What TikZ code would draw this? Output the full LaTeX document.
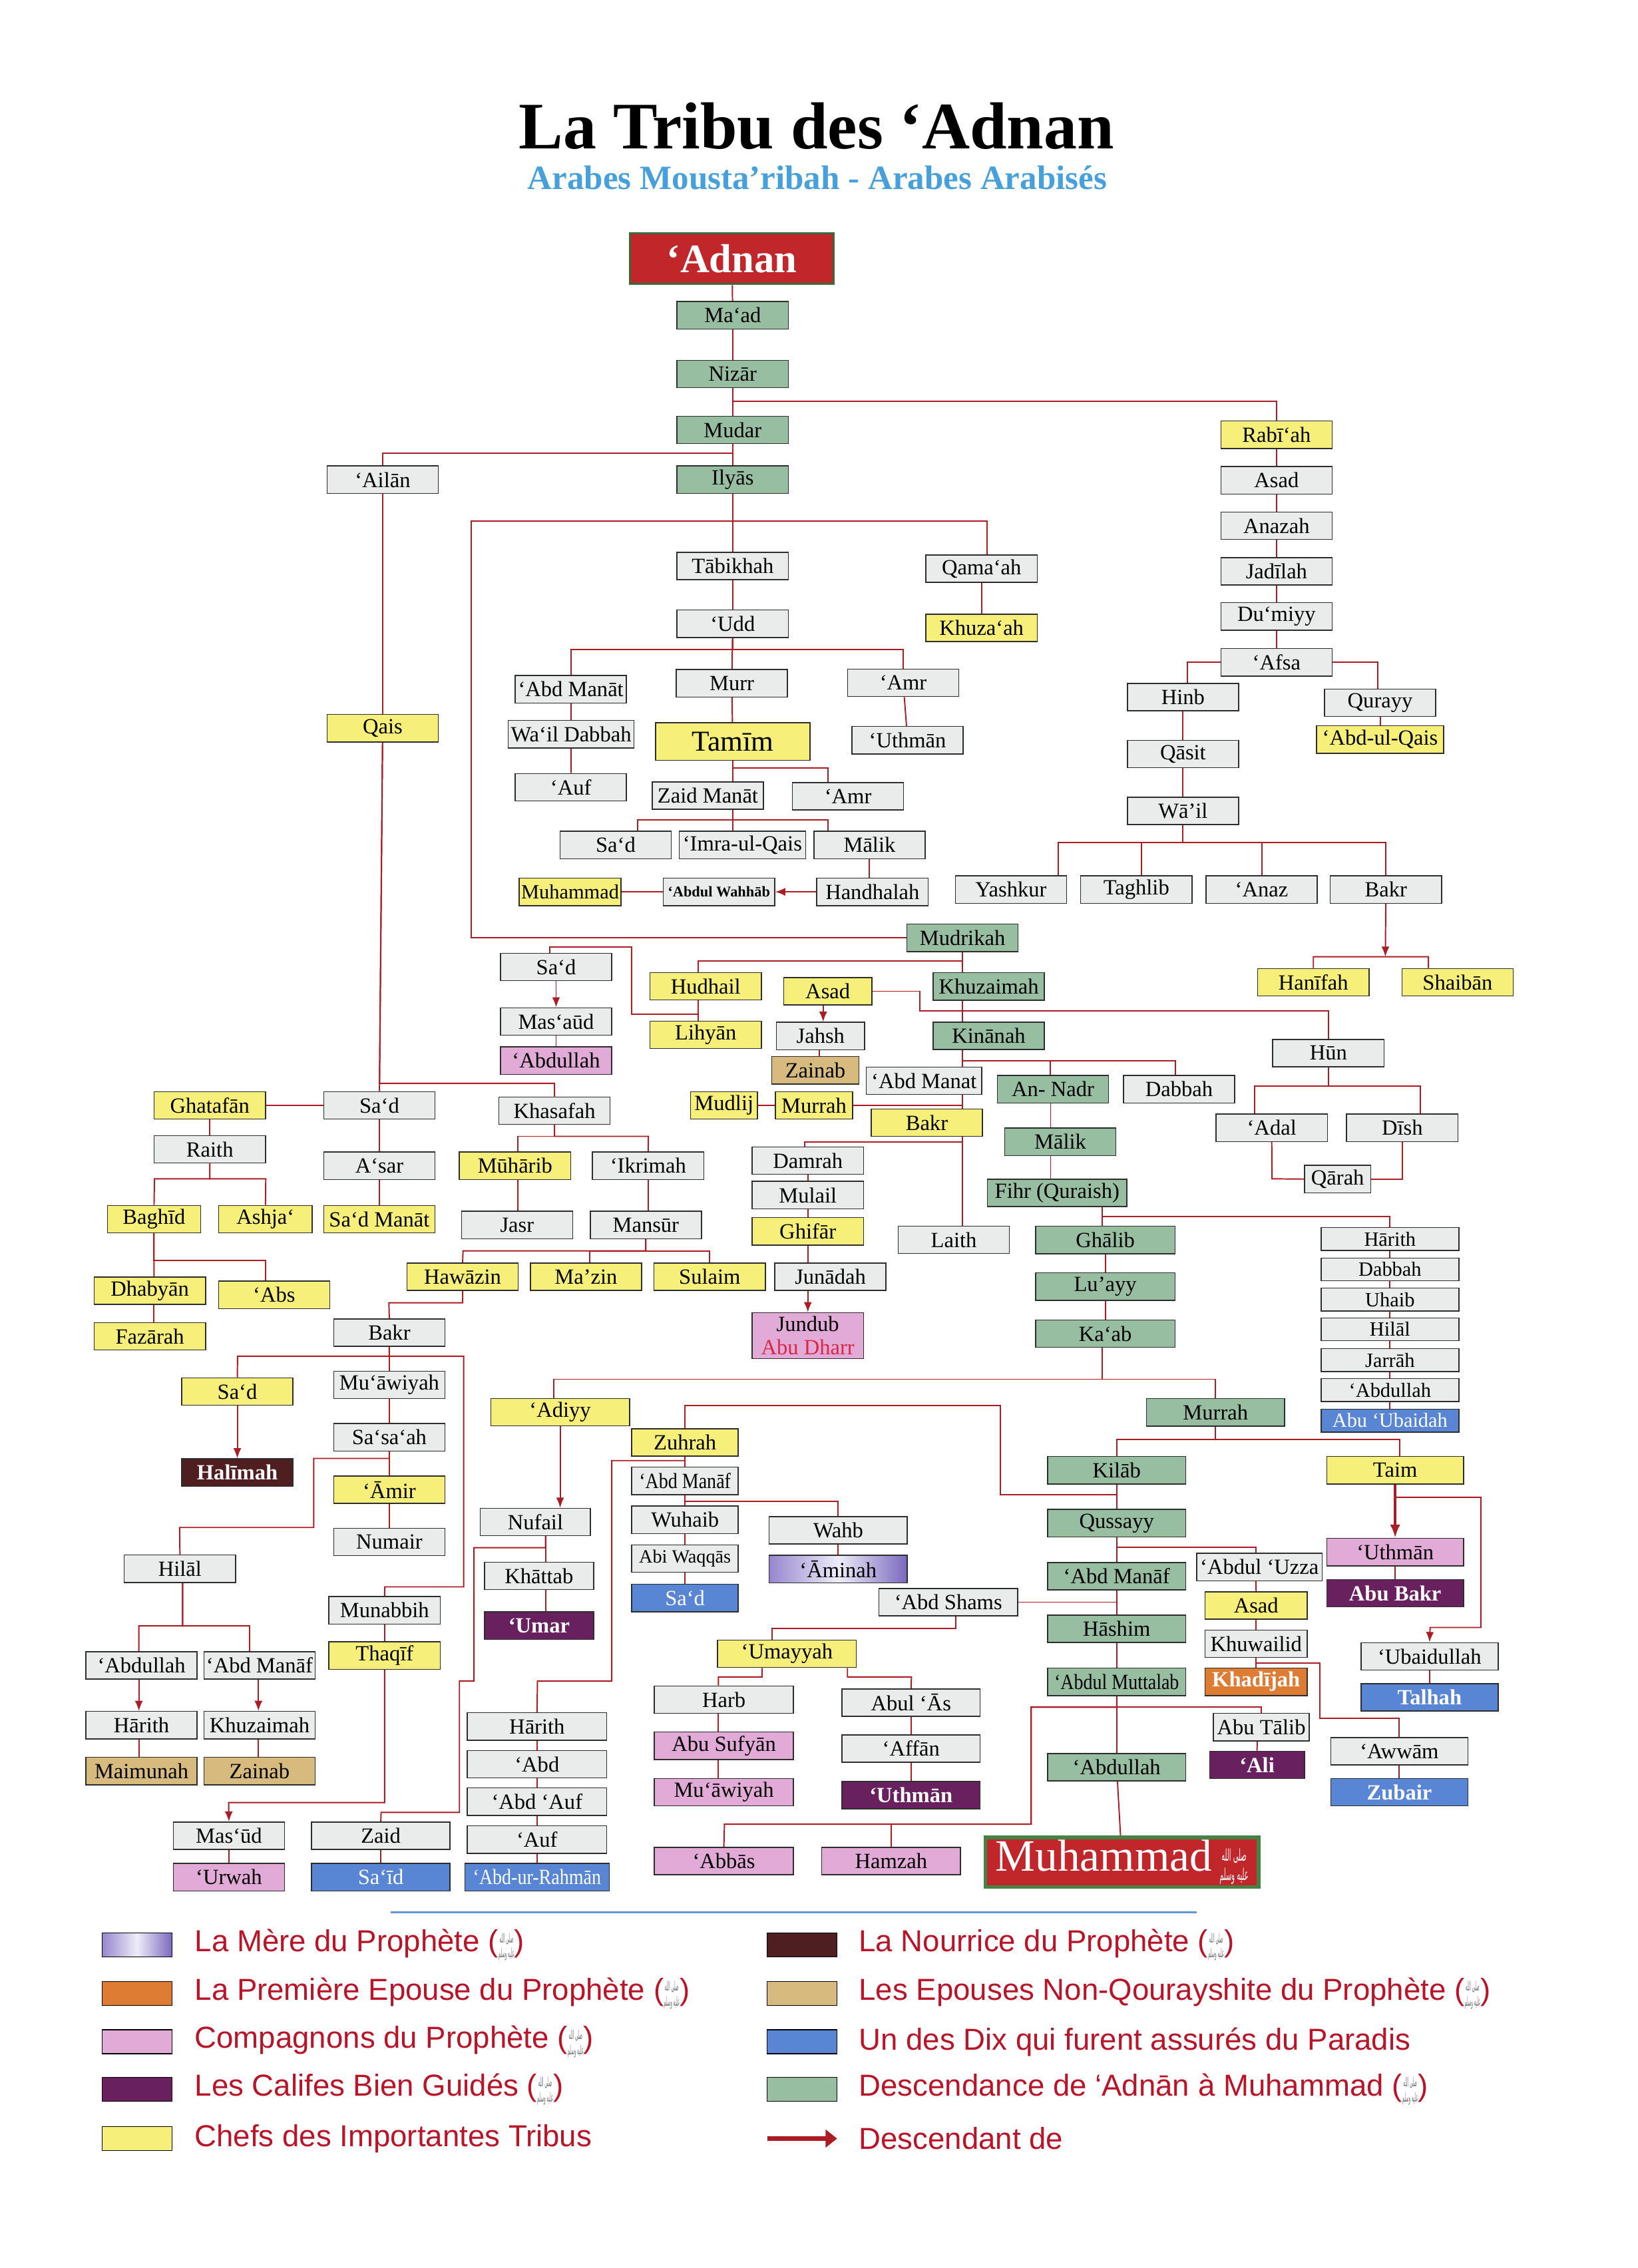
\documentclass[tikz,border=0pt]{standalone}
\usepackage{fontspec}
\usepackage{graphicx}
\TeXXeTstate=1
\setmainfont{Liberation Serif}
\newfontfamily\legfont{Liberation Sans}
\newfontfamily\arabicfont[Script=Arabic]{DejaVu Sans}
\newfontfamily\condfont[FakeStretch=0.86]{Liberation Serif}
\usetikzlibrary{arrows.meta}
\pgfdeclarelayer{bg}
\pgfsetlayers{bg,main}
\definecolor{cgreen}{RGB}{152,190,162}
\definecolor{cgrey}{RGB}{234,236,235}
\definecolor{cyellow}{RGB}{246,239,122}
\definecolor{cpink}{RGB}{226,170,214}
\definecolor{ccalif}{RGB}{104,32,94}
\definecolor{cblue}{RGB}{88,134,212}
\definecolor{ctan}{RGB}{214,186,126}
\definecolor{cnurse}{RGB}{78,30,32}
\definecolor{corange}{RGB}{222,124,52}
\definecolor{cmotherL}{RGB}{150,135,205}
\definecolor{cmotherM}{RGB}{238,236,248}
\definecolor{cmotherR}{RGB}{122,105,190}
\definecolor{linec}{RGB}{172,28,36}
\definecolor{bordc}{RGB}{45,45,45}
\definecolor{cred}{RGB}{192,38,42}
\definecolor{credb}{RGB}{60,105,60}
\definecolor{cmuhb}{RGB}{70,130,70}
\definecolor{titleblue}{RGB}{70,160,220}
\definecolor{legred}{RGB}{185,20,40}
\definecolor{dharr}{RGB}{215,40,70}
\definecolor{sepblue}{RGB}{100,150,210}
\newcommand\nf{\fontsize{15}{16}\selectfont}
\newcommand\condnf{\condfont\fontsize{15}{16}\selectfont}
% calligraphic salutation, set as real Arabic text squeezed into a small mark
\newcommand\salla[2]{\raisebox{-0.2em}{\resizebox{#1}{#2}{\arabicfont\fontsize{10}{10}\selectfont\shortstack{\beginR صلى الله\endR\\\beginR عليه وسلم\endR}}}}
\newcommand\pbuhsym{{\color{black!55}\salla{11pt}{17pt}}}
\tikzset{
 bx/.style={draw=bordc, line width=0.7pt, minimum width=77pt, minimum height=19pt, inner sep=0pt, font=\nf},
 wd/.style={minimum width=#1pt},
 nGreen/.style={bx, fill=cgreen},
 nGrey/.style={bx, fill=cgrey},
 nYellow/.style={bx, fill=cyellow},
 nPink/.style={bx, fill=cpink},
 nTan/.style={bx, fill=ctan},
 nBlue/.style={bx, fill=cblue, text=white},
 nCalif/.style={bx, fill=ccalif, text=white, font=\nf\bfseries},
 nNurse/.style={bx, fill=cnurse, text=white, font=\nf\bfseries},
 nOrange/.style={bx, fill=corange, text=white, font=\nf\bfseries},
 nMother/.style={bx, left color=cmotherL, right color=cmotherR, middle color=cmotherM},
 nRed/.style={draw=credb, line width=1.5pt, fill=cred, text=white, inner sep=0pt},
 nMuh/.style={draw=cmuhb, line width=2.5pt, fill=cred, text=white, inner sep=0pt, minimum width=189pt, minimum height=34.4pt, font=\fontsize{31}{33}\selectfont},
 smallbox/.style={minimum height=15.8pt, minimum width=95.4pt, font=\fontsize{14}{15}\selectfont},
 lnk/.style={draw=linec, line width=0.9pt},
 lnkarr/.style={draw=linec, line width=0.9pt, -{Latex[length=7pt,width=5.5pt]}},
 thickarr/.style={draw=linec, line width=2pt, -{Latex[length=9pt,width=7pt]}},
 legsw/.style={draw=black, line width=0.6pt, minimum width=48.4pt, minimum height=16.5pt, inner sep=0pt},
 legtxt/.style={anchor=west, text=legred, font=\legfont\fontsize{21}{23}\selectfont, inner sep=0pt},
}
\begin{document}
\begin{tikzpicture}[x=1pt,y=-1pt]
\useasboundingbox (0,0) rectangle (1133,1569.6);
% titles
\node[anchor=base, font=\fontsize{46}{50}\selectfont\bfseries, inner sep=0pt] (title) at (565,103) {La Tribu des ‘Adnan};
\node[anchor=base, font=\fontsize{23.5}{26}\selectfont\bfseries, text=titleblue, inner sep=0pt] (subtitle) at (565.5,131) {Arabes Mousta’ribah - Arabes Arabisés};
% trunk
\node[nRed, minimum width=141pt, minimum height=35pt, font=\fontsize{28}{30}\selectfont\bfseries] (adnan) at (506.5,179) {‘Adnan};
\node[nGreen] (maad) at (507,218.2) {Ma‘ad};
\node[nGreen] (nizar) at (507,258.8) {Nizār};
\node[nGreen] (mudar) at (507,297.5) {Mudar};
\node[nGreen] (ilyas) at (507,332) {Ilyās};
\node[nGrey] (ailan) at (264.8,332) {‘Ailān};
\node[nYellow] (qais) at (264.8,504) {Qais};
\node[nGrey] (tabikhah) at (507,391.7) {Tābikhah};
\node[nGrey] (udd) at (507,431.6) {‘Udd};
\node[nGrey] (murr) at (506.4,472.9) {Murr};
\node[nYellow, wd=106.8, minimum height=26pt, font=\fontsize{20}{22}\selectfont] (tamim) at (507,513.2) {Tamīm};
\node[nGrey] (qamaah) at (679.2,393.5) {Qama‘ah};
\node[nYellow] (khuzaah) at (679.2,434.5) {Khuza‘ah};
\node[nGrey] (amrA) at (625,472.5) {‘Amr};
\node[nGrey] (uthmanA) at (628,512.2) {‘Uthmān};
\node[nGrey] (abdmanatA) at (395,477) {‘Abd Manāt};
\node[nGrey, wd=87] (waildabbah) at (395.2,508.1) {Wa‘il Dabbah};
\node[nGrey] (aufA) at (395,544.8) {‘Auf};
\node[nGrey] (zaidmanat) at (489.8,550.6) {Zaid Manāt};
\node[nGrey] (amrB) at (586.8,551) {‘Amr};
\node[nGrey] (sadA) at (426,584.8) {Sa‘d};
\node[nGrey, wd=87.4] (imra) at (513.7,584.8) {‘Imra-ul-Qais};
\node[nGrey] (malikA) at (601.7,584.8) {Mālik};
\node[nGrey] (handhalah) at (603.7,617.2) {Handhalah};
\node[nGrey, font=\fontsize{10.3}{11}\selectfont\bfseries] (wahhab) at (497.5,617.2) {‘Abdul Wahhāb};
\node[nYellow, wd=70.6, font=\fontsize{14}{15}\selectfont] (muhammadY) at (394.5,617.2) {Muhammad};
% Rabi'ah
\node[nYellow] (rabiah) at (883.3,300.8) {Rabī‘ah};
\node[nGrey] (asadR) at (883.3,332.4) {Asad};
\node[nGrey] (anazah) at (883.3,363.8) {Anazah};
\node[nGrey] (jadilah) at (883.3,395.4) {Jadīlah};
\node[nGrey] (dumiyy) at (883.3,426.6) {Du‘miyy};
\node[nGrey] (afsa) at (883.3,458.4) {‘Afsa};
\node[nGrey] (hinb) at (818.6,482.4) {Hinb};
\node[nGrey] (qasit) at (818.6,521.8) {Qāsit};
\node[nGrey] (wail) at (818.6,561.2) {Wā’il};
\node[nGrey] (qurayy) at (955,486.3) {Qurayy};
\node[nYellow, wd=88] (abdulqais) at (955,511.8) {‘Abd-ul-Qais};
\node[nGrey] (yashkur) at (699.6,615.6) {Yashkur};
\node[nGrey] (taghlib) at (786.3,615.6) {Taghlib};
\node[nGrey] (anaz) at (873,615.6) {‘Anaz};
\node[nGrey] (bakrW) at (959,615.6) {Bakr};
\node[nYellow] (hanifah) at (908.8,679.8) {Hanīfah};
\node[nYellow] (shaiban) at (1008.6,679.8) {Shaibān};
% Mudrikah
\node[nGreen] (mudrikah) at (666,649) {Mudrikah};
\node[nGreen] (khuzaimah) at (684.2,682.7) {Khuzaimah};
\node[nGreen] (kinanah) at (684.2,716.8) {Kinānah};
\node[nYellow] (hudhail) at (488.3,682.5) {Hudhail};
\node[nYellow] (lihyan) at (488.3,716.2) {Lihyān};
\node[nGrey] (sadB) at (384.8,669.2) {Sa‘d};
\node[nGrey] (masaud) at (384.8,707) {Mas‘aūd};
\node[nPink] (abdullahA) at (384.8,734) {‘Abdullah};
\node[nYellow, wd=61] (asadK) at (572.8,686) {Asad};
\node[nGrey, wd=61] (jahsh) at (567.8,717) {Jahsh};
\node[nTan, wd=60.5] (zainabA) at (564.2,740.7) {Zainab};
\node[nGrey, wd=80] (abdmanatB) at (639.4,747.9) {‘Abd Manat};
\node[nGreen] (annadr) at (728.6,753.8) {An- Nadr};
\node[nGrey] (dabbahA) at (815.9,753.8) {Dabbah};
\node[nGrey] (hun) at (919.2,728.8) {Hūn};
\node[nGrey] (adal) at (880,780.5) {‘Adal};
\node[nGrey] (dish) at (970.3,780.5) {Dīsh};
\node[nGrey, wd=46] (qarah) at (925.6,816) {Qārah};
\node[nYellow, wd=46.2] (mudlij) at (501,765) {Mudlij};
\node[nYellow, wd=53.4] (murrahY) at (563.3,765) {Murrah};
\node[nYellow] (bakrK) at (641.3,777) {Bakr};
\node[nGrey] (damrah) at (559,803.2) {Damrah};
\node[nGrey] (mulail) at (559,827.1) {Mulail};
\node[nYellow] (ghifar) at (559,852.1) {Ghifār};
\node[nGrey] (junadah) at (574.6,883.6) {Junādah};
\node[nPink, minimum height=31.8pt, align=center] (jundub) at (559,924.4) {Jundub\\{\color{dharr}Abu Dharr}};
\node[nGrey] (laith) at (660,858) {Laith};
\node[nGreen] (malikB) at (733.7,790.2) {Mālik};
\node[nGreen, wd=96.4] (fihr) at (731.5,825.5) {Fihr (Quraish)};
\node[nGreen, wd=96.5] (ghalib) at (764.8,858.1) {Ghālib};
\node[nGreen, wd=96.5] (luayy) at (764.8,890.4) {Lu’ayy};
\node[nGreen, wd=96.5] (kaab) at (764.8,923) {Ka‘ab};
% right column
\node[nGrey, smallbox] (harithR) at (961.8,857.5) {Hārith};
\node[nGrey, smallbox] (dabbahR) at (961.8,878.5) {Dabbah};
\node[nGrey, smallbox] (uhaib) at (961.8,899.4) {Uhaib};
\node[nGrey, smallbox] (hilalR) at (961.8,920) {Hilāl};
\node[nGrey, smallbox] (jarrah) at (961.8,941.2) {Jarrāh};
\node[nGrey, smallbox] (abdullahR) at (961.8,962) {‘Abdullah};
\node[nBlue, smallbox] (abuubaidah) at (961.8,983.1) {Abu ‘Ubaidah};
% Quraish
\node[nGreen, wd=95.5] (murrahG) at (841.1,977.4) {Murrah};
\node[nGreen, wd=95.5] (kilab) at (772.7,1017.5) {Kilāb};
\node[nYellow, wd=94.7] (taim) at (965.4,1017.5) {Taim};
\node[nGreen, wd=95.5] (qussayy) at (772.7,1054.1) {Qussayy};
\node[nGreen, wd=95.5] (abdmanafG) at (772.7,1090.8) {‘Abd Manāf};
\node[nGrey, wd=86.6] (uzza) at (871.5,1084.5) {‘Abdul ‘Uzza};
\node[nYellow, wd=70.6] (asadQ) at (869.2,1111.1) {Asad};
\node[nGrey, wd=70.6] (khuwailid) at (869.2,1137.6) {Khuwailid};
\node[nOrange, wd=70.6] (khadijah) at (869.2,1163.9) {Khadījah};
\node[nGreen, wd=95.5] (hashim) at (772.7,1127.2) {Hāshim};
\node[nGreen, wd=95.5, font=\condnf] (muttalab) at (772.7,1163.9) {‘Abdul Muttalab};
\node[nGrey, wd=66.3] (abutalib) at (872.8,1195.3) {Abu Tālib};
\node[nCalif, wd=65.6] (ali) at (869.8,1221.4) {‘Ali};
\node[nGreen, wd=95.5] (abdullahG) at (772.7,1223) {‘Abdullah};
\node[nMuh] (muhammad) at (776.4,1288.8) {Muhammad\,\salla{20pt}{22pt}};
\node[nPink, wd=94.7] (uthmanP) at (965.4,1074.1) {‘Uthmān};
\node[nCalif, wd=94.7] (abubakr) at (965.4,1102.6) {Abu Bakr};
\node[nGrey, wd=94.9] (ubaidullah) at (989.2,1146.3) {‘Ubaidullah};
\node[nBlue, wd=94.9, font=\nf\bfseries] (talhah) at (989.2,1174.6) {Talhah};
\node[nGrey, wd=94.9] (awwam) at (968.3,1212) {‘Awwām};
\node[nBlue, wd=94.9, font=\nf\bfseries] (zubair) at (968.3,1240.3) {Zubair};
% left group
\node[nGrey] (sadQ) at (262.5,765) {Sa‘d};
\node[nYellow] (ghatafan) at (145.2,765) {Ghatafān};
\node[nGrey] (raith) at (145.2,795.4) {Raith};
\node[nYellow, wd=64.3] (baghid) at (106.6,843.7) {Baghīd};
\node[nYellow, wd=64.6] (ashja) at (183.7,843.7) {Ashja‘};
\node[nYellow] (dhabyan) at (103.7,893.2) {Dhabyān};
\node[nYellow] (abs) at (189.7,896.1) {‘Abs};
\node[nYellow] (fazarah) at (103.7,924.8) {Fazārah};
\node[nGrey] (asar) at (262.5,806.8) {A‘sar};
\node[nYellow] (sadmanat) at (262.5,843.7) {Sa‘d Manāt};
\node[nGrey] (khasafah) at (383.7,768.7) {Khasafah};
\node[nYellow] (muharib) at (356.4,806.8) {Mūhārib};
\node[nGrey] (ikrimah) at (448.5,806.8) {‘Ikrimah};
\node[nGrey] (jasr) at (357.8,847.8) {Jasr};
\node[nGrey] (mansur) at (446.9,847.8) {Mansūr};
\node[nYellow] (hawazin) at (320.1,883.6) {Hawāzin};
\node[nYellow] (mazin) at (405.5,883.6) {Ma’zin};
\node[nYellow] (sulaim) at (491.1,883.6) {Sulaim};
\node[nGrey] (bakrH) at (269.4,922.3) {Bakr};
\node[nYellow] (sadY) at (164.2,963) {Sa‘d};
\node[nNurse] (halimah) at (164.2,1019.1) {Halīmah};
\node[nGrey] (muawiyahA) at (269.4,958.4) {Mu‘āwiyah};
\node[nGrey] (sasaah) at (269.4,994.7) {Sa‘sa‘ah};
\node[nYellow] (amir) at (269.4,1031) {‘Āmir};
\node[nGrey] (numair) at (269.4,1067.1) {Numair};
\node[nGrey] (hilal) at (124.5,1085.6) {Hilāl};
\node[nGrey] (abdullahH) at (97.9,1152.6) {‘Abdullah};
\node[nGrey] (abdmanafH) at (179.6,1152.6) {‘Abd Manāf};
\node[nGrey] (harithH) at (97.9,1193.9) {Hārith};
\node[nGrey] (khuzaimahH) at (179.6,1193.9) {Khuzaimah};
\node[nTan] (maimunah) at (97.9,1225.7) {Maimunah};
\node[nTan] (zainabB) at (179.6,1225.7) {Zainab};
\node[nGrey] (munabbih) at (266.1,1114.4) {Munabbih};
\node[nYellow] (thaqif) at (266.1,1145.7) {Thaqīf};
\node[nGrey] (masud) at (158.4,1270.5) {Mas‘ūd};
\node[nPink] (urwah) at (158.4,1299.1) {‘Urwah};
\node[nGrey, wd=95.7] (zaid) at (263.5,1270.5) {Zaid};
\node[nBlue, wd=95.7] (said) at (263.5,1299.1) {Sa‘īd};
\node[nYellow, wd=96] (adiyy) at (387.6,977.3) {‘Adiyy};
\node[nGrey, wd=76.2] (nufail) at (370.5,1053.3) {Nufail};
\node[nGrey, wd=75.5] (khattab) at (373,1090.6) {Khāttab};
\node[nCalif, wd=75.5] (umar) at (373,1125) {‘Umar};
\node[nYellow, wd=73.7] (zuhrah) at (474,998.2) {Zuhrah};
\node[nGrey, wd=73.7, font=\condnf] (abdmanafZ) at (474,1024.9) {‘Abd Manāf};
\node[nGrey, wd=73.7] (wuhaib) at (474,1051.8) {Wuhaib};
\node[nGrey, wd=73.7, font=\fontsize{13}{14}\selectfont] (abiwaqqas) at (474,1078.6) {Abi Waqqās};
\node[nBlue, wd=73.7] (sadZ) at (474,1105.9) {Sa‘d};
\node[nGrey, wd=95.5] (wahb) at (580,1059) {Wahb};
\node[nMother, wd=95.5] (aminah) at (580,1085.9) {‘Āminah};
\node[nGrey, wd=96] (abdshams) at (656.2,1108.8) {‘Abd Shams};
\node[nYellow, wd=96] (umayyah) at (544.6,1144.5) {‘Umayyah};
\node[nGrey, wd=96.3] (harb) at (500.9,1176.3) {Harb};
\node[nPink, wd=96.3] (abusufyan) at (500.9,1208.1) {Abu Sufyān};
\node[nPink, wd=96.3] (muawiyahB) at (500.9,1240.3) {Mu‘āwiyah};
\node[nGrey, wd=95.5] (abulas) at (630.4,1178.3) {Abul ‘Ās};
\node[nGrey, wd=95.5] (affan) at (630.4,1210.1) {‘Affān};
\node[nCalif, wd=95.5] (uthmanD) at (630.4,1242.3) {‘Uthmān};
\node[nGrey, wd=96.5] (harithZ) at (371.6,1194.8) {Hārith};
\node[nGrey, wd=96.5] (abd) at (371.6,1220.9) {‘Abd};
\node[nGrey, wd=96.5] (abdauf) at (371.6,1246.8) {‘Abd ‘Auf};
\node[nGrey, wd=96.5] (aufB) at (371.6,1273.1) {‘Auf};
\node[nBlue, wd=100, font=\condnf] (rahman) at (371.6,1299.1) {‘Abd-ur-Rahmān};
\node[nPink, wd=96.2] (abbas) at (500.9,1287.9) {‘Abbās};
\node[nPink, wd=96.2] (hamzah) at (616.6,1287.9) {Hamzah};
% legend
\coordinate (sepL) at (270.4,1323.4);
\coordinate (sepR) at (828.1,1323.4);
\draw[sepblue, line width=1.6pt] (sepL) -- (sepR);
\node[legsw, left color=cmotherL, right color=cmotherR, middle color=cmotherM] (sw1) at (94.9,1346) {};
\node[legsw, fill=corange] (sw2) at (94.9,1379.5) {};
\node[legsw, fill=cpink] (sw3) at (94.9,1413) {};
\node[legsw, fill=ccalif] (sw4) at (94.9,1445.8) {};
\node[legsw, fill=cyellow] (sw5) at (94.9,1480) {};
\node[legsw, fill=cnurse] (sw6) at (555,1346) {};
\node[legsw, fill=ctan] (sw7) at (555,1379.5) {};
\node[legsw, fill=cblue] (sw8) at (555,1413) {};
\node[legsw, fill=cgreen] (sw9) at (555,1445.8) {};
\coordinate (arrL) at (530.8,1480);
\coordinate (arrR) at (579.3,1480);
\draw[linec, line width=3.5pt, -{Triangle[length=8pt,width=12pt]}] (arrL) -- (arrR);
\node[legtxt] (lt1) at (134.6,1346) {La Mère du Prophète (\pbuhsym)};
\node[legtxt] (lt2) at (134.6,1379.5) {La Première Epouse du Prophète (\pbuhsym)};
\node[legtxt] (lt3) at (134.6,1413) {Compagnons du Prophète (\pbuhsym)};
\node[legtxt] (lt4) at (134.6,1445.8) {Les Califes Bien Guidés (\pbuhsym)};
\node[legtxt] (lt5) at (134.6,1480) {Chefs des Importantes Tribus};
\node[legtxt] (lt6) at (594.2,1346) {La Nourrice du Prophète (\pbuhsym)};
\node[legtxt] (lt7) at (594.2,1379.5) {Les Epouses Non-Qourayshite du Prophète (\pbuhsym)};
\node[legtxt] (lt8) at (594.2,1413) {Un des Dix qui furent assurés du Paradis};
\node[legtxt] (lt9) at (594.2,1445.8) {Descendance de ‘Adnān à Muhammad (\pbuhsym)};
\node[legtxt] (lt10) at (594.2,1480) {Descendant de};
% connectors
\begin{pgfonlayer}{bg}
\draw[lnk] (adnan) -- (maad);
\draw[lnk] (maad) -- (nizar);
\draw[lnk] (nizar) -- (mudar);
\draw[lnk] (nizar) -- (507,277.8) -| (rabiah);
\draw[lnk] (mudar) -- (ilyas);
\draw[lnk] (mudar) -- (507,313.7) -| (ailan);
\draw[lnk] (ailan) -- (qais);
\draw[lnk] (qais) -- (sadQ);
\draw[lnk] (qais) -- (262.6,749.7) -| (khasafah);
\draw[lnk] (ilyas) -- (tabikhah);
\draw[lnk] (ilyas) -- (507,360.5) -| ([xshift=3.7pt]qamaah.north);
\draw[lnk] (ilyas) -- (507,360.5) -- (326.2,360.5) |- (mudrikah.west);
\draw[lnk] (qamaah) -- (khuzaah);
\draw[lnk] (tabikhah) -- (udd);
\draw[lnk] (udd) -- (507,449.4) -| (abdmanatA);
\draw[lnk] (udd) -- (507,449.4) -| (amrA);
\draw[lnk] (udd) -- (murr);
\draw[lnk] (amrA) -- (uthmanA);
\draw[lnk] (abdmanatA) -- (waildabbah);
\draw[lnk] (waildabbah) -- (aufA);
\draw[lnk] (murr) -- (tamim);
\draw[lnk] (tamim) -- (tamim |- zaidmanat.north);
\draw[lnk] (tamim) -- (507,531.3) -| ([xshift=-13.9pt]amrB.north);
\draw[lnk] (tamim |- zaidmanat.south) -- (507,567.3) -| ([xshift=15.3pt]sadA.north);
\draw[lnk] (tamim |- zaidmanat.south) -- (507,567.3) -| ([xshift=-28.8pt]malikA.north);
\draw[lnk] (tamim |- zaidmanat.south) -- (tamim |- imra.north);
\draw[lnk] (malikA) -- (malikA |- handhalah.north);
\draw[lnkarr] (handhalah.west) -- (wahhab.east);
\draw[lnk] (wahhab.west) -- (muhammadY.east);
\draw[lnk] (rabiah) -- (asadR);
\draw[lnk] (asadR) -- (anazah);
\draw[lnk] (anazah) -- (jadilah);
\draw[lnk] (jadilah) -- (dumiyy);
\draw[lnk] (dumiyy) -- (afsa);
\draw[lnk] (afsa.west) -| ([xshift=3pt]hinb.north);
\draw[lnk] (afsa.east) -| ([xshift=-1.8pt]qurayy.north);
\draw[lnk] (qurayy) -- (abdulqais);
\draw[lnk] (hinb) -- (qasit);
\draw[lnk] (qasit) -- (wail);
\draw[lnk] (wail) -- (818.6,583.2) -| ([xshift=32.8pt]yashkur.north);
\draw[lnk] (wail) -- (818.6,583.2) -| ([xshift=3.6pt]taghlib.north);
\draw[lnk] (wail) -- (818.6,583.2) -| (anaz.north);
\draw[lnk] (wail) -- (818.6,583.2) -| (bakrW.north);
\draw[lnkarr] (bakrW) -- (958.6,662.1);
\draw[lnk] (hanifah) -- (908.8,662.1) -- (988.4,662.1) -- ([xshift=-20.2pt]shaiban.north);
\draw[lnk] (mudrikah) -- (mudrikah |- laith.north);
\draw[lnk] (mudrikah) -- (666,665.1) -| ([xshift=-5.1pt]hudhail.north);
\draw[lnk] ([xshift=-5.1pt]hudhail.south) -- ([xshift=-5.1pt]lihyan.north);
\draw[lnk] ([xshift=-5.1pt]hudhail.south) |- (436.9,701.7) -- (436.9,655.2) -| ([xshift=-4.2pt]sadB.north);
\draw[lnkarr] (sadB) -- (masaud.north);
\draw[lnk] (masaud) -- (abdullahA);
\draw[lnk] (asadK.east) -- (636.3,686) -- (636.3,699.5) -| (hun.north);
\draw[lnkarr] ([xshift=-3.2pt]asadK.south) -- ([xshift=1.8pt]jahsh.north);
\draw[lnk] ([xshift=-0.8pt]jahsh.south) -- ([xshift=2.8pt]zainabA.north);
\draw[lnk] (kinanah -| mudrikah) |- (666,734.1) -| ([xshift=-2pt]annadr.north);
\draw[lnk] (kinanah -| mudrikah) |- (666,734.1) -| ([xshift=-2.6pt]dabbahA.north);
\draw[lnk] (murrahY.east) -- (murrahY.east -| mudrikah);
\draw[lnk] (mudlij.east) -- (murrahY.west);
\draw[lnk] (bakrK -| mudrikah) |- (666,790.1) -| ([xshift=-2.3pt]damrah.north);
\draw[lnk] (damrah) -- (mulail);
\draw[lnk] (mulail) -- (ghifar);
\draw[lnk] (ghifar) -- (ghifar |- junadah.north);
\draw[lnkarr] (ghifar |- junadah.south) -- (jundub.north);
\draw[lnk] ([xshift=-1.6pt]annadr.south) -- ([xshift=-6.7pt]malikB.north);
\draw[lnk] ([xshift=-6.7pt]malikB.south) -- ([xshift=-4.5pt]fihr.north);
\draw[lnk] ([xshift=31.3pt]fihr.south) -- ([xshift=-2pt]ghalib.north);
\draw[lnk] ([xshift=31.3pt]fihr.south) -- (762.8,841.9) -| (harithR.north);
\draw[lnk] (harithR) -- (dabbahR);
\draw[lnk] (dabbahR) -- (uhaib);
\draw[lnk] (uhaib) -- (hilalR);
\draw[lnk] (hilalR) -- (jarrah);
\draw[lnk] (jarrah) -- (abdullahR);
\draw[lnk] (abdullahR) -- (abuubaidah);
\draw[lnk] (ghalib) -- (luayy);
\draw[lnk] (luayy) -- (kaab);
\draw[lnk] ([xshift=-2pt]kaab.south) -- (762.8,954.5) -| (murrahG.north);
\draw[lnk] ([xshift=-2pt]kaab.south) -- (762.8,954.5) -| ([xshift=-4.6pt]adiyy.north);
\draw[lnk] (murrahG) -- (841.1,996.4) -| (kilab.north);
\draw[lnk] (murrahG) -- (841.1,996.4) -| ([xshift=3pt]taim.north);
\draw[lnk] (kilab) -- (qussayy);
\draw[lnk] (kilab) |- (692.4,1034.4) -- (692.4,972.5) -| (zuhrah.north);
\draw[lnk] (qussayy) -- (abdmanafG);
\draw[lnk] (qussayy) -- (772.7,1070.9) -| ([xshift=-2.5pt]uzza.north);
\draw[lnk] ([xshift=-2.5pt]uzza.south) -- (asadQ.north);
\draw[lnk] (asadQ) -- (khuwailid);
\draw[lnk] (khuwailid) -- (khadijah);
\draw[lnk] (abdshams.east) -- (abdshams.east -| kilab);
\draw[lnk] ([xshift=5.1pt]abdshams.south) |- (534.1,1127.2) -- ([xshift=-10.5pt]umayyah.north);
\draw[lnk] ([xshift=-17.3pt]umayyah.south) |- (497.1,1160.5) -- ([xshift=-3.8pt]harb.north);
\draw[lnk] ([xshift=41.8pt]umayyah.south) |- (630.7,1160.5) -- (abulas.north);
\draw[lnk] ([xshift=-3.8pt]harb.south) -- ([xshift=-3.8pt]abusufyan.north);
\draw[lnk] ([xshift=-3.8pt]abusufyan.south) -- ([xshift=-3.8pt]muawiyahB.north);
\draw[lnk] (abulas) -- (affan);
\draw[lnk] (affan) -- (uthmanD);
\draw[lnk] (abdmanafG) -- (hashim);
\draw[lnk] (hashim) -- (muttalab);
\draw[lnk] (muttalab) -- (abdullahG);
\draw[lnk] (abdullahG) -- (muhammad);
\draw[lnk] (muttalab) -- (772.7,1181.5) -| (abutalib.north);
\draw[lnk] (muttalab) -- (772.7,1181.5) -- (713.6,1181.5) |- (501.3,1262.4) -- (abbas.north);
\draw[lnk] (muttalab) -- (772.7,1181.5) -- (713.6,1181.5) |- (616.6,1262.4) -- (hamzah.north);
\draw[lnk] ([xshift=-2.8pt]abutalib.south) -- (ali.north);
\draw[lnk] (khuwailid.south) |- (913.5,1151) -- (913.5,1189) -| (awwam.north);
\draw[lnk] (awwam) -- (zubair);
\draw[thickarr] (taim) -- (uthmanP.north);
\draw[lnk] (uthmanP) -- (abubakr);
\draw[lnkarr] (taim.south) |- (1024.7,1036.2) |- (989.6,1126.3) -- (ubaidullah.north);
\draw[lnk] (ubaidullah) -- (talhah);
\draw[lnk] (zuhrah) -- (abdmanafZ);
\draw[lnk] (abdmanafZ) -- (wuhaib);
\draw[lnk] (wuhaib) -- (abiwaqqas);
\draw[lnk] (abiwaqqas) -- (sadZ);
\draw[lnk] (abdmanafZ) |- (580,1039) -- (wahb.north);
\draw[lnk] (wahb) -- (aminah);
\draw[lnk] (zuhrah) |- (423.3,1010.8) |- (371.9,1163.4) -- (harithZ.north);
\draw[lnk] (harithZ) -- (abd);
\draw[lnk] (abd) -- (abdauf);
\draw[lnk] (abdauf) -- (aufB);
\draw[lnk] (aufB) -- (rahman);
\draw[lnkarr] (adiyy) -- (adiyy |- nufail.north);
\draw[lnk] ([xshift=7pt]nufail.south) -- ([xshift=4.5pt]khattab.north);
\draw[lnk] ([xshift=4.5pt]khattab.south) -- ([xshift=4.5pt]umar.north);
\draw[lnk] ([xshift=7pt]nufail.south) |- (328,1071.1) -- (328,1163.3) -- (317.9,1163.3) |- (263.7,1254.3) -- (zaid.north);
\draw[lnk] (zaid) -- (said);
\draw[lnk] (hawazin) |- (269.1,901.6) -- (bakrH.north);
\draw[lnk] (bakrH) |- (164.4,938.6) -- (sadY.north);
\draw[lnkarr] (sadY) -- (halimah.north);
\draw[lnk] (bakrH) -- (muawiyahA);
\draw[lnk] (muawiyahA) -- (sasaah);
\draw[lnk] (sasaah) -- (amir);
\draw[lnk] (amir) -- (numair);
\draw[lnk] (bakrH) |- (320.8,938.6) |- (266.3,1098.2) -- (munabbih.north);
\draw[lnk] (munabbih) -- (thaqif);
\draw[lnkarr] (thaqif) |- (158.2,1247.5) -- (masud.north);
\draw[lnk] (masud) -- (urwah);
\draw[lnk] (sasaah) |- (217.1,1009.3) |- (124.3,1057.1) -- (hilal.north);
\draw[lnk] ([xshift=1.9pt]hilal.south) |- (96.1,1125.2) -- ([xshift=-1.8pt]abdullahH.north);
\draw[lnk] ([xshift=1.9pt]hilal.south) |- (172.7,1125.2) -- ([xshift=-6.9pt]abdmanafH.north);
\draw[lnkarr] ([xshift=-1.8pt]abdullahH.south) -- ([xshift=-1.8pt]harithH.north);
\draw[lnkarr] ([xshift=-0.8pt]abdmanafH.south) -- ([xshift=-0.8pt]khuzaimahH.north);
\draw[lnk] ([xshift=-1.8pt]harithH.south) -- ([xshift=-1.8pt]maimunah.north);
\draw[lnk] ([xshift=-0.8pt]khuzaimahH.south) -- ([xshift=-0.8pt]zainabB.north);
\draw[lnk] (sadQ) -- (asar);
\draw[lnk] (asar) -- (sadmanat);
\draw[lnk] (ghatafan.east) -- (sadQ.west);
\draw[lnk] (ghatafan) -- (raith);
\draw[lnk] (raith) |- (106.9,815.8) -- (baghid.north);
\draw[lnk] (raith) |- (183.9,815.8) -- (ashja.north);
\draw[lnk] (baghid) |- (183.9,872.2) -- ([xshift=-5.8pt]abs.north);
\draw[lnk] (baghid) -- ([xshift=2.9pt]dhabyan.north);
\draw[lnk] ([xshift=2.9pt]dhabyan.south) -- ([xshift=2.9pt]fazarah.north);
\draw[lnk] (khasafah) |- (358.4,786.4) -- ([xshift=2pt]muharib.north);
\draw[lnk] (khasafah) |- (448.7,786.4) -- (ikrimah.north);
\draw[lnk] ([xshift=2pt]muharib.south) -- ([xshift=0.6pt]jasr.north);
\draw[lnk] (ikrimah.south) -- ([xshift=1.6pt]mansur.north);
\draw[lnk] (mansur) |- (320.4,865.7) -- (hawazin.north);
\draw[lnk] (mansur) |- (491.1,865.7) -- (sulaim.north);
\draw[lnk] (mansur) |- (408.2,865.7) -- ([xshift=2.7pt]mazin.north);
\draw[lnk] (adal.south) -- (880.2,815.8) -- (qarah.west);
\draw[lnk] (hun) |- (868.3,751.7) -- ([xshift=-11.7pt]adal.north);
\draw[lnk] (hun) |- (982.8,751.7) -- ([xshift=12.5pt]dish.north);
\draw[lnk] (dish.south) |- (qarah.east);
\end{pgfonlayer}
\end{tikzpicture}
\end{document}
